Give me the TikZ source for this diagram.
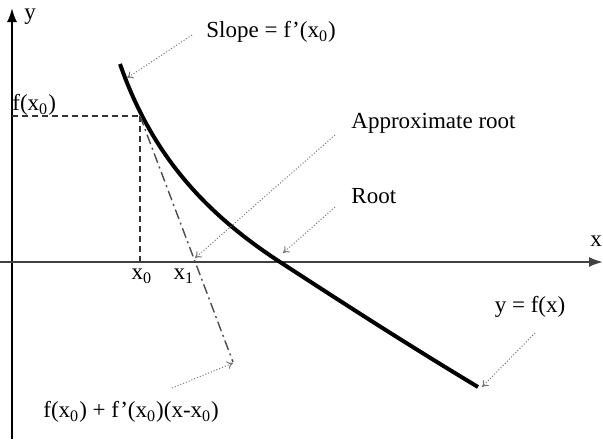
\documentclass[tikz,border=0pt]{standalone}
\usepackage{fontspec}
\setmainfont{Liberation Serif}
\usetikzlibrary{arrows.meta}
\begin{document}
\begin{tikzpicture}[x=0.5pt,y=-0.5pt,
  lbl/.style={inner sep=0pt,font=\fontsize{11.5}{14}\selectfont},
  axis/.style={line width=1pt,-{Latex[length=7pt,width=5pt]}},
  curve/.style={line width=2pt},
  guide/.style={line width=0.7pt,densely dashed,black!80},
  tangent/.style={line width=0.7pt,dash pattern=on 5pt off 2pt on 1pt off 2pt,black!70},
  pointer/.style={line width=0.5pt,densely dotted,black!55,-{To[length=3pt,width=4pt]}}]
\useasboundingbox (0,0) rectangle (603,439);
% axes
\coordinate (ybot) at (12,439);
\coordinate (ytop) at (12,8);
\coordinate (xl) at (0,262);
\coordinate (xr) at (603,262);
\draw[axis] (ybot) -- (ytop);
\draw[axis,black!75] (xl) -- (xr);
% curve
\coordinate (cs) at (120,64);
\coordinate (p0) at (140,116);
\coordinate (rt) at (280,262);
\coordinate (ce) at (478,387);
\draw[curve] (cs) .. controls (150,150) and (200,210) .. (rt)
                  .. controls (340,301) and (400,340) .. (ce);
% guides
\coordinate (fy) at (12,116);
\coordinate (x0a) at (140,262);
\draw[guide] (fy) -- (p0);
\draw[guide] (p0) -- (x0a);
\coordinate (tend) at (233,362);
\draw[tangent] (p0) -- (tend);
% labels
\node[lbl] (ylab) at (30,17) {y};
\node[lbl] (xlab) at (596,241) {x};
\node[lbl,anchor=west] (slope) at (206,32) {Slope = f'(x\textsubscript{0})};
\node[lbl,anchor=west] (fx0) at (12,105) {f(x\textsubscript{0})};
\node[lbl,anchor=west] (approx) at (351,123) {Approximate root};
\node[lbl,anchor=west] (root) at (351,196) {Root};
\node[lbl] (x0) at (142,276) {x\textsubscript{0}};
\node[lbl] (x1) at (184,276) {x\textsubscript{1}};
\node[lbl] (yfx) at (530,307) {y = f(x)};
\node[lbl,anchor=west] (tanlab) at (43,412) {f(x\textsubscript{0}) + f'(x\textsubscript{0})(x-x\textsubscript{0})};
% pointer arrows
\coordinate (a1s) at (192,35);  \coordinate (a1e) at (127,78);
\coordinate (a2s) at (335,135); \coordinate (a2e) at (195,258);
\coordinate (a3s) at (335,207); \coordinate (a3e) at (283,253);
\coordinate (a4s) at (535,333); \coordinate (a4e) at (482,387);
\coordinate (a5s) at (172,388); \coordinate (a5e) at (233,363);
\draw[pointer] (a1s) -- (a1e);
\draw[pointer] (a2s) -- (a2e);
\draw[pointer] (a3s) -- (a3e);
\draw[pointer] (a4s) -- (a4e);
\draw[pointer] (a5s) -- (a5e);
\end{tikzpicture}
\end{document}
